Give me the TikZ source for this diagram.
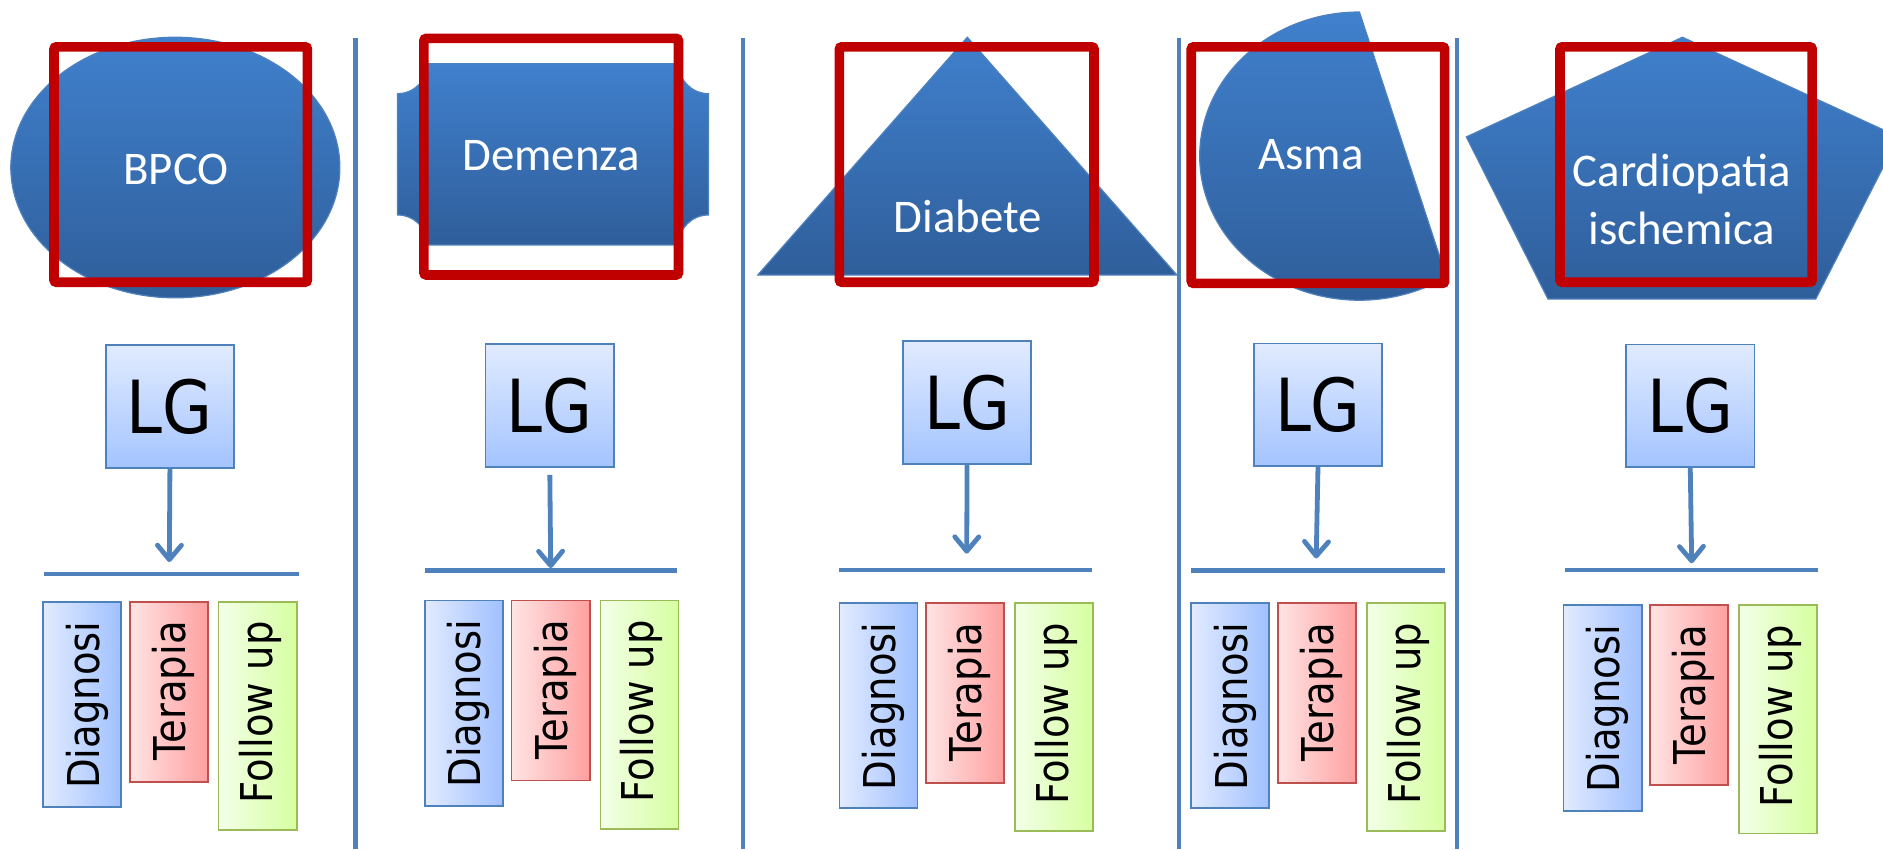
\documentclass[tikz,border=0pt]{standalone}
\usepackage{fontspec}
\usepackage{tikz}
\usetikzlibrary{shapes,arrows.meta}
\newfontfamily\carlito{Carlito}
\newfontfamily\lgfont[FakeStretch=0.88]{DejaVu Sans}
\definecolor{edgeblue}{RGB}{79,129,189}
\definecolor{shapetop}{RGB}{64,128,205}
\definecolor{shapebot}{RGB}{47,94,154}
\definecolor{framered}{RGB}{192,0,0}
\definecolor{lgtop}{RGB}{225,235,255}
\definecolor{lgbot}{RGB}{164,196,255}
\definecolor{dlight}{RGB}{226,235,255}
\definecolor{ddark}{RGB}{160,192,255}
\definecolor{tlight}{RGB}{255,228,228}
\definecolor{tdark}{RGB}{255,160,160}
\definecolor{tedge}{RGB}{192,80,77}
\definecolor{flight}{RGB}{243,255,232}
\definecolor{fdark}{RGB}{214,255,160}
\definecolor{fedge}{RGB}{155,187,89}
\begin{document}
\begin{tikzpicture}[x=1pt,y=-1pt]
\tikzstyle{every node}+=[inner sep=0pt]
\tikzstyle{disease}=[draw=edgeblue, line width=1pt, top color=shapetop, bottom color=shapebot]
\tikzstyle{redframe}=[draw=framered, line width=8pt, rounded corners=2pt]
\tikzstyle{title}=[text=white, align=center, font=\carlito\fontsize{39}{48.5}\selectfont]
\tikzstyle{lgbox}=[draw=edgeblue, line width=1.5pt, top color=lgtop, bottom color=lgbot, minimum width=107pt, minimum height=102pt, font=\lgfont\fontsize{61}{61}\selectfont]
\tikzstyle{sep}=[draw=edgeblue, line width=3.5pt]
\tikzstyle{bar}=[draw=edgeblue, line width=4pt]
\tikzstyle{flow}=[draw=edgeblue, line width=4pt, -{Straight Barb[length=12pt,width=20pt,round]}]
\tikzstyle{diag}=[draw=edgeblue, line width=1.5pt, left color=dlight, right color=ddark, minimum width=65pt, minimum height=171pt]
\tikzstyle{ther}=[draw=tedge, line width=1.5pt, left color=tlight, right color=tdark, minimum width=65pt, minimum height=150pt]
\tikzstyle{fup}=[draw=fedge, line width=1.5pt, left color=flight, right color=fdark, minimum width=65pt, minimum height=190pt]
\tikzstyle{phase}=[rotate=90, anchor=base east, font=\lgfont\fontsize{36.5}{36.5}\selectfont]
\useasboundingbox (0,0) rectangle (1568,707);
\path[disease] (146,139.5) ellipse [x radius=137, y radius=108.5];
\path[disease] (356,53) -- (565,53) arc[start angle=180,end angle=90,radius=25] -- (590,179) arc[start angle=-90,end angle=-180,radius=25] -- (356,204) arc[start angle=0,end angle=-90,radius=25] -- (331,78) arc[start angle=90,end angle=0,radius=25] -- cycle;
\path[disease] (805.5,31) -- (980,229) -- (631,229) -- cycle;
\path[disease] (1132,10) arc[start angle=270,end angle=57,x radius=133,y radius=120] -- cycle;
\path[disease] (1401,31) -- (1581,114) -- (1512,249) -- (1289,249) -- (1221,114) -- cycle;
\draw[redframe] (45,39) rectangle (256,235);
\draw[redframe] (353,32) rectangle (565,229);
\draw[redframe] (699,39) rectangle (911,235);
\draw[redframe] (992,39) rectangle (1203,236);
\draw[redframe] (1299,39) rectangle (1509,235);
\node[title] (bpco) at (146.5,141.5) {BPCO};
\node[title] (demenza) at (459,130) {Demenza};
\node[title] (diabete) at (806,180.5) {Diabete};
\node[title] (asma) at (1091.5,129) {Asma};
\node[title] (cardio) at (1400.5,166) {Cardiopatia\\ischemica};
\draw[sep] (296,32) -- (296,707);
\draw[sep] (619,32) -- (619,707);
\draw[sep] (982,32) -- (982,707);
\draw[sep] (1213,32) -- (1213,707);
\node[lgbox] (lg1) at (141.5,338.5) {LG};
\node[lgbox] (lg2) at (457.8,337.7) {LG};
\node[lgbox] (lg3) at (805.3,335.2) {LG};
\node[lgbox] (lg4) at (1097.5,337) {LG};
\node[lgbox] (lg5) at (1407.5,337.8) {LG};
\coordinate (tip1) at (141,468);
\coordinate (tip2) at (458.6,473);
\coordinate (tip3) at (805,461);
\coordinate (tip4) at (1096,465);
\coordinate (tip5) at (1408.7,469);
\draw[flow] (lg1.south) -- (tip1);
\draw[flow, shorten <=6pt] (lg2.south) -- (tip2);
\draw[flow] (lg3.south) -- (tip3);
\draw[flow] (lg4.south) -- (tip4);
\draw[flow] (lg5.south) -- (tip5);
\draw[bar] (36.5,478) -- (249,478);
\draw[bar] (354,475) -- (564,475);
\draw[bar] (699,474.7) -- (909,474.7);
\draw[bar] (992,475) -- (1203,475);
\draw[bar] (1303,474.7) -- (1514,474.7);
\node[diag] (diag1) at (68.5,586.5) {};
\node[ther] (ther1) at (140.5,576) {};
\node[fup] (fup1) at (214.5,596) {};
\node[diag] (diag2) at (386.5,585.5) {};
\node[ther] (ther2) at (458.5,575) {};
\node[fup] (fup2) at (532.5,595) {};
\node[diag] (diag3) at (731.5,587.5) {};
\node[ther] (ther3) at (803.5,577) {};
\node[fup] (fup3) at (877.5,597) {};
\node[diag] (diag4) at (1024.5,587.5) {};
\node[ther] (ther4) at (1096.5,577) {};
\node[fup] (fup4) at (1170.5,597) {};
\node[diag] (diag5) at (1334.5,589.5) {};
\node[ther] (ther5) at (1406.5,579) {};
\node[fup] (fup5) at (1480.5,599) {};
\node[phase] (tdiag1) at ([xshift=14pt,yshift=-17pt]diag1.north) {Diagnosi};
\node[phase] (tther1) at ([xshift=14pt,yshift=-17pt]ther1.north) {Terapia};
\node[phase] (tfup1) at ([xshift=12pt,yshift=-17pt]fup1.north) {Follow up};
\node[phase] (tdiag2) at ([xshift=14pt,yshift=-17pt]diag2.north) {Diagnosi};
\node[phase] (tther2) at ([xshift=14pt,yshift=-17pt]ther2.north) {Terapia};
\node[phase] (tfup2) at ([xshift=12pt,yshift=-17pt]fup2.north) {Follow up};
\node[phase] (tdiag3) at ([xshift=14pt,yshift=-17pt]diag3.north) {Diagnosi};
\node[phase] (tther3) at ([xshift=14pt,yshift=-17pt]ther3.north) {Terapia};
\node[phase] (tfup3) at ([xshift=12pt,yshift=-17pt]fup3.north) {Follow up};
\node[phase] (tdiag4) at ([xshift=14pt,yshift=-17pt]diag4.north) {Diagnosi};
\node[phase] (tther4) at ([xshift=14pt,yshift=-17pt]ther4.north) {Terapia};
\node[phase] (tfup4) at ([xshift=12pt,yshift=-17pt]fup4.north) {Follow up};
\node[phase] (tdiag5) at ([xshift=14pt,yshift=-17pt]diag5.north) {Diagnosi};
\node[phase] (tther5) at ([xshift=14pt,yshift=-17pt]ther5.north) {Terapia};
\node[phase] (tfup5) at ([xshift=12pt,yshift=-17pt]fup5.north) {Follow up};
\end{tikzpicture}
\end{document}
